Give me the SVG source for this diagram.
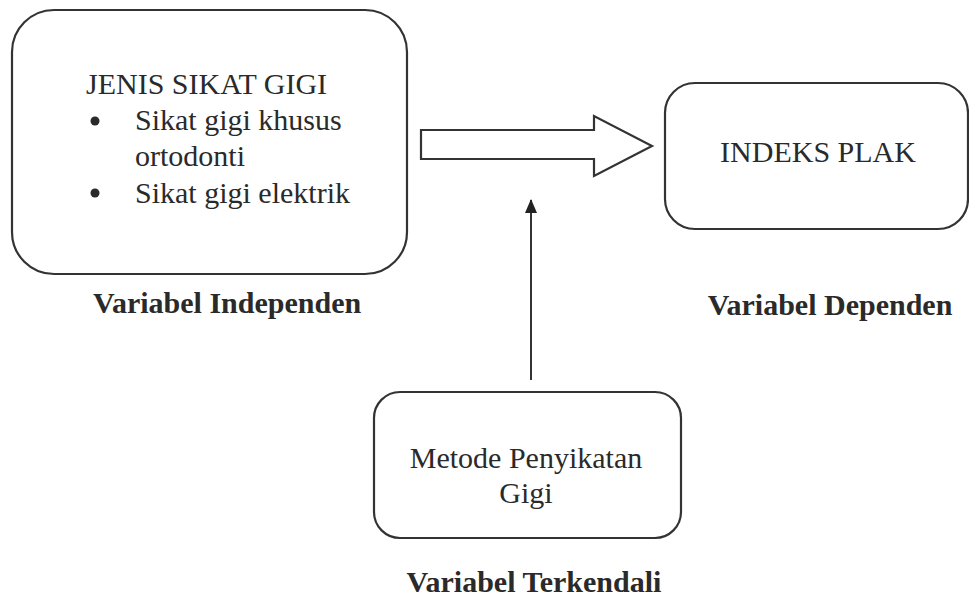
<svg xmlns="http://www.w3.org/2000/svg" width="969" height="598" viewBox="0 0 969 598">
<style>
.box{fill:#fff;stroke:#333;stroke-width:2.2}
.t{font-family:'Liberation Serif','Times New Roman','DejaVu Serif',serif;font-size:30px;font-weight:normal;fill:#2a2a2a}
.b{font-weight:bold}
.c{text-anchor:middle}
</style>
<defs>
<marker id="ah" markerWidth="14" markerHeight="12" refX="13" refY="6" orient="auto" markerUnits="userSpaceOnUse" viewBox="0 0 14 12">
<path d="M0,0 L14,6 L0,12 Z" fill="#222"/>
</marker>
</defs>
<rect width="969" height="598" fill="#fff"/>
<g id="node-jenis">
<rect class="box" x="12" y="10" width="395" height="264" rx="42" ry="42"/>
<text class="t" x="86" y="94" font-family="Liberation Serif">JENIS SIKAT GIGI</text>
<circle cx="95" cy="121" r="4.5" fill="#2a2a2a"/>
<text class="t" x="135" y="130" font-family="Liberation Serif">Sikat gigi khusus</text>
<text class="t" x="135" y="166" font-family="Liberation Serif">ortodonti</text>
<circle cx="95" cy="193" r="4.5" fill="#2a2a2a"/>
<text class="t" x="135" y="203" font-family="Liberation Serif">Sikat gigi elektrik</text>
</g>
<g id="label-independen">
<text class="t b" x="93" y="313">Variabel Independen</text>
</g>
<g id="node-indeks">
<rect class="box" x="665" y="83" width="303" height="146" rx="30" ry="30"/>
<text class="t c" x="818" y="162" font-family="Liberation Serif">INDEKS PLAK</text>
</g>
<g id="label-dependen">
<text class="t b c" x="830" y="315">Variabel Dependen</text>
</g>
<g id="node-metode">
<rect class="box" x="374" y="392" width="307" height="146" rx="26" ry="26"/>
<text class="t c" x="526" y="468" font-family="Liberation Serif">Metode Penyikatan</text>
<text class="t c" x="526" y="503" font-family="Liberation Serif">Gigi</text>
</g>
<g id="label-terkendali">
<text class="t b c" x="534" y="592">Variabel Terkendali</text>
</g>
<g id="connectors">
<path d="M421,130 L594,130 L594,116 L652,146 L594,176 L594,159 L421,159 Z" fill="#fff" stroke="#333" stroke-width="2.2" stroke-linejoin="miter"/>
<line x1="531" y1="380" x2="531" y2="200" stroke="#333" stroke-width="2" marker-end="url(#ah)"/>
</g>
</svg>
